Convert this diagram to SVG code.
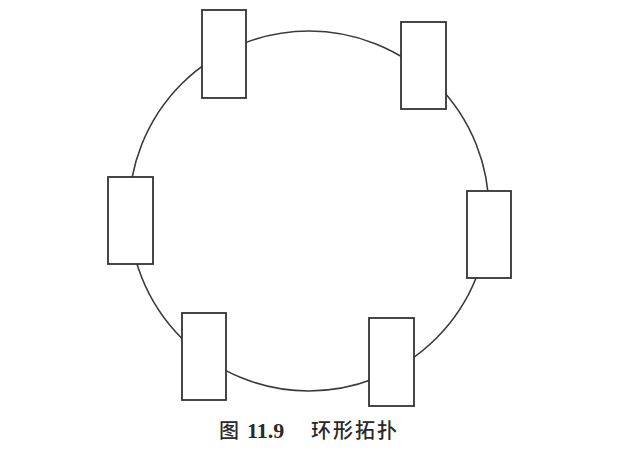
<svg xmlns="http://www.w3.org/2000/svg" width="620" height="466" viewBox="0 0 620 466">
<style>
.ring{fill:none;stroke:#3a3a3a;stroke-width:1.6}
.node rect{fill:#fff;stroke:#333;stroke-width:1.8}
.cap{font-family:"Noto Sans CJK SC",sans-serif;font-size:20px;font-weight:500;fill:#2a2a2a}
.num{font-family:"Liberation Serif",serif;font-size:22px;font-weight:bold;fill:#2a2a2a}
</style>
<rect width="620" height="466" fill="#fff"/>
<g id="connectors">
<circle class="ring" cx="309" cy="211" r="180"/>
</g>
<g id="node-top-left" class="node"><rect x="202" y="10" width="44" height="88"/></g>
<g id="node-top-right" class="node"><rect x="401" y="22" width="45" height="87"/></g>
<g id="node-left" class="node"><rect x="108" y="177" width="45" height="87"/></g>
<g id="node-right" class="node"><rect x="467" y="191" width="44" height="87"/></g>
<g id="node-bottom-left" class="node"><rect x="182" y="313" width="44" height="87"/></g>
<g id="node-bottom-right" class="node"><rect x="369" y="318" width="45" height="88"/></g>
<g id="caption">
<text class="cap" x="219" y="438">图</text>
<text class="num" x="247" y="438">11.9</text>
<text class="cap" x="311" y="438" letter-spacing="2">环形拓扑</text>
</g>
</svg>
